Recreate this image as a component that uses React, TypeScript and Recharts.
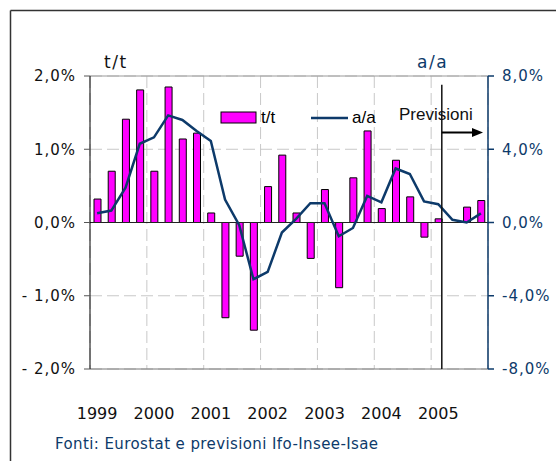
import {
  Bar,
  CartesianGrid,
  ComposedChart,
  Legend,
  Line,
  ReferenceLine,
  XAxis,
  YAxis,
} from "recharts";

const quarters = [
  "1999T1", "1999T2", "1999T3", "1999T4",
  "2000T1", "2000T2", "2000T3", "2000T4",
  "2001T1", "2001T2", "2001T3", "2001T4",
  "2002T1", "2002T2", "2002T3", "2002T4",
  "2003T1", "2003T2", "2003T3", "2003T4",
  "2004T1", "2004T2", "2004T3", "2004T4",
  "2005T1", "2005T2", "2005T3", "2005T4",
];

// variazione congiunturale (asse sinistro)
const tt = [
  0.32, 0.7, 1.41, 1.81,
  0.7, 1.85, 1.14, 1.22,
  0.13, -1.3, -0.46, -1.47,
  0.49, 0.92, 0.13, -0.49,
  0.45, -0.89, 0.61, 1.25,
  0.19, 0.85, 0.35, -0.2,
  0.05, 0, 0.21, 0.3,
];

// variazione tendenziale (asse destro)
const aa = [
  0.5, 0.65, 1.9, 4.3,
  4.65, 5.85, 5.6, 5.0,
  4.45, 1.25, -0.15, -3.1,
  -2.7, -0.55, 0.2, 1.05,
  1.05, -0.75, -0.3, 1.45,
  1.1, 2.95, 2.65, 1.15,
  1.0, 0.15, 0.0, 0.5,
];

const yearTicks = ["1999T1", "2000T1", "2001T1", "2002T1", "2003T1", "2004T1", "2005T1"];
const leftTicks = [-2, -1, 0, 1, 2];
const rightTicks = [-8, -4, 0, 4, 8];
const yearBounds = [0, 4, 8, 12, 16, 20, 24, 28];

const data = quarters.map((q, i) => ({ q, idx: i + 0.5, tt: tt[i], aa: aa[i] }));

const NAVY = "#0d3a6a";
const MAGENTA = "#ff00ff";

const fmtLeft = (v: number) => {
  const s = Math.abs(v).toFixed(1).replace(".", ",") + "%";
  return v < 0 ? "- " + s : s;
};
const fmtRight = (v: number) => v.toFixed(1).replace(".", ",") + "%";

function ArrowShape(p: any) {
  const { x1, y1, x2, y2 } = p;
  return (
    <g>
      <line x1={x1} y1={y1} x2={x2 - 8} y2={y2} stroke="#000" strokeWidth={2} />
      <polygon points={`${x2},${y2} ${x2 - 11},${y2 - 4.5} ${x2 - 11},${y2 + 4.5}`} fill="#000" />
    </g>
  );
}

function LegendBox() {
  return (
    <svg width={170} height={24}>
      <rect x={2} y={8} width={35} height={11} fill={MAGENTA} stroke="#000" strokeWidth={1} />
      <text x={42} y={19} fontFamily="Liberation Sans, Arial" fontSize={17} fill="#000">t/t</text>
      <line x1={92} y1={14} x2={129} y2={14} stroke={NAVY} strokeWidth={2.5} />
      <text x={133} y={19} fontFamily="Liberation Sans, Arial" fontSize={17} fill="#000">a/a</text>
    </svg>
  );
}

export default function App() {
  return (
    <div style={{ position: "absolute", left: 0, top: 0, width: 556, height: 461, background: "#fff" }}>
      <ComposedChart
        width={556}
        height={461}
        data={data}
        margin={{ top: 76, right: 8, bottom: 8, left: 10 }}
      >
        <XAxis xAxisId="q" dataKey="idx" type="number" domain={[0, 28]} ticks={yearBounds} hide />
        <CartesianGrid
          xAxisId="q"
          yAxisId="left"
          stroke="#c8c8c8"
          strokeDasharray="12 5"
          horizontalValues={leftTicks}
          verticalValues={yearBounds}
        />
        <XAxis
          dataKey="q"
          ticks={yearTicks}
          interval={0}
          tickFormatter={(v: string) => v.slice(0, 4)}
          axisLine={false}
          tickLine={false}
          tickSize={0}
          tickMargin={39}
          height={60}
          tick={{ fill: "#111", fontSize: 16, fontFamily: "DejaVu Sans" }}
        />
        <YAxis
          yAxisId="left"
          domain={[-2, 2]}
          ticks={leftTicks}
          tickFormatter={fmtLeft}
          width={80}
          stroke="#000"
          tickSize={6}
          tickMargin={8}
          tick={{ fill: "#111", fontSize: 15, fontFamily: "DejaVu Sans", letterSpacing: 1 }}
          tickLine={{ stroke: "#555" }}
        />
        <YAxis
          yAxisId="right"
          orientation="right"
          domain={[-8, 8]}
          ticks={rightTicks}
          tickFormatter={fmtRight}
          width={60}
          stroke={NAVY}
          strokeWidth={1.5}
          tickSize={6}
          tickMargin={8}
          tick={{ fill: NAVY, fontSize: 15, fontFamily: "DejaVu Sans", letterSpacing: 1 }}
        />
        <ReferenceLine yAxisId="left" y={2} stroke="#9a9a9a" />
        <ReferenceLine yAxisId="left" y={-2} stroke="#777" />
        <Bar
          yAxisId="left"
          dataKey="tt"
          fill={MAGENTA}
          stroke="#000"
          strokeWidth={1}
          barSize={7}
          isAnimationActive={false}
        />
        <ReferenceLine yAxisId="left" y={0} stroke="#222" strokeWidth={1} />
        <Line
          yAxisId="right"
          dataKey="aa"
          type="linear"
          stroke={NAVY}
          strokeWidth={2.5}
          dot={false}
          isAnimationActive={false}
        />
        <ReferenceLine
          xAxisId="q"
          yAxisId="left"
          segment={[{ x: 24.75, y: 1.88 }, { x: 24.75, y: -2 }]}
          stroke="#111"
          strokeWidth={1.5}
        />
        <ReferenceLine
          xAxisId="q"
          yAxisId="left"
          segment={[{ x: 24.75, y: 1.23 }, { x: 27.65, y: 1.23 }]}
          shape={ArrowShape}
        />
        <Legend
          content={() => <LegendBox />}
          wrapperStyle={{ position: "absolute", left: 219, top: 104, width: 170, height: 24 }}
        />
      </ComposedChart>
      <svg
        width={556}
        height={461}
        style={{ position: "absolute", left: 0, top: 0, pointerEvents: "none" }}
      >
        <line x1={10.5} y1={10.5} x2={556} y2={10.5} stroke="#333" strokeWidth={1.5} />
        <line x1={10.5} y1={10.5} x2={10.5} y2={461} stroke="#333" strokeWidth={1.5} />
        <text x={104} y={68} fontFamily="DejaVu Sans" fontSize={17} letterSpacing={1.5} fill="#111">t/t</text>
        <text x={417} y={68} fontFamily="DejaVu Sans" fontSize={17} letterSpacing={1.5} fill={NAVY}>a/a</text>
        <text x={399} y={120} fontFamily="Liberation Sans, Arial" fontSize={17} fill="#111">Previsioni</text>
        <text x={55} y={449} fontFamily="DejaVu Sans" fontSize={15} letterSpacing={0.4} fill={NAVY}>
          Fonti: Eurostat e previsioni Ifo-Insee-Isae
        </text>
      </svg>
    </div>
  );
}
